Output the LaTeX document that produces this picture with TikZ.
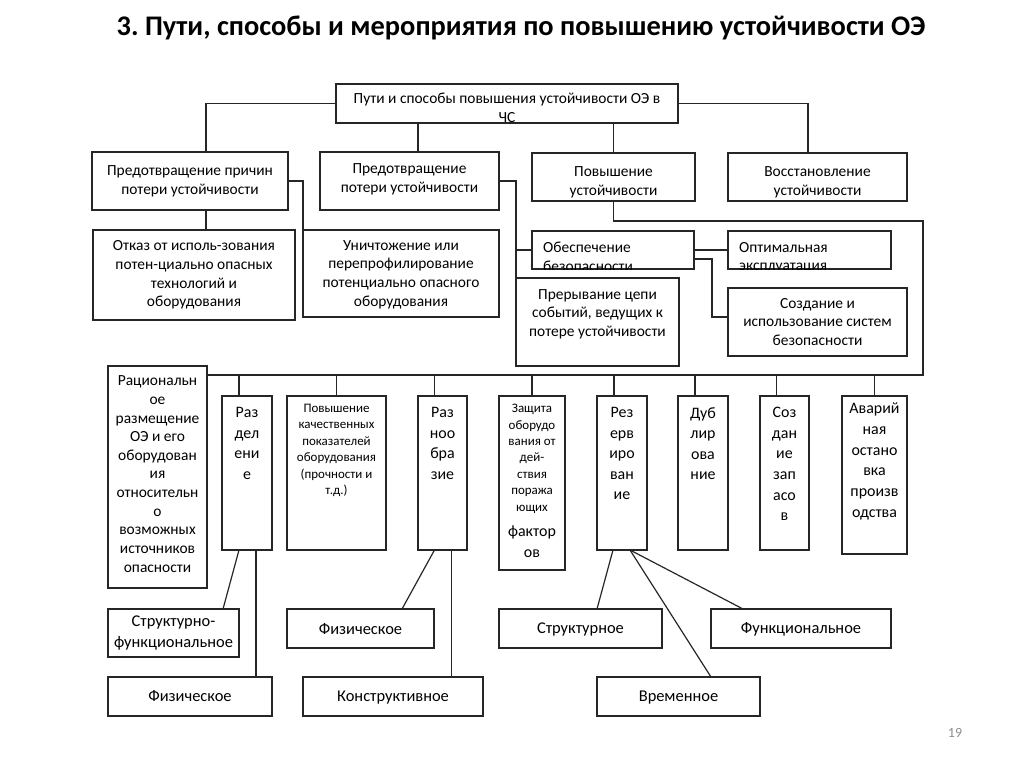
\documentclass[tikz,border=0pt]{standalone}
\usepackage{fontspec}
\setmainfont{Carlito}
\usetikzlibrary{calc}
\frenchspacing
\tikzset{
 box/.style={draw=black!85, line width=1.2bp, inner sep=0pt, outer sep=0pt, anchor=north west},
 ln/.style={draw=black!85, line width=1.2bp},
 tx/.style={inner sep=0pt, align=center, font=\fontsize{15.5}{18.7}\selectfont},
 txb/.style={inner sep=0pt, align=center, font=\fontsize{16.5}{21}\selectfont},
 txn/.style={inner sep=0pt, align=center, anchor=north, font=\fontsize{16}{20.7}\selectfont},
 txs/.style={inner sep=0pt, align=center, anchor=north, font=\fontsize{13}{16.5}\selectfont},
}
\newcommand\mkbox[5]{\node[box, minimum width={(#4-#2)*1bp}, minimum height={(#5-#3)*1bp}] (#1) at (#2,#3) {};}
\begin{document}
\begin{tikzpicture}[x=1bp,y=-1bp]
\useasboundingbox (0,0) rectangle (1024,767);
\node[font=\fontsize{28.5}{32}\selectfont\bfseries] (title) at (521,28) {3. Пути, способы и мероприятия по повышению устойчивости ОЭ};
% boxes
\mkbox{top}{336}{84}{678}{123}
\mkbox{A}{92}{152}{288}{210}
\mkbox{B}{320}{152}{499}{210}
\mkbox{C}{532}{153}{695}{201}
\mkbox{Dv}{728}{153}{907}{201}
\mkbox{H}{93}{230}{295}{320}
\mkbox{I}{303}{230}{499}{317}
\mkbox{D}{532}{231}{694}{269}
\mkbox{E}{728}{231}{891}{269}
\mkbox{F}{728}{288}{907}{356}
\mkbox{G}{516}{278}{679}{366}
\mkbox{Rac}{108}{366}{207}{588}
\mkbox{Razd}{222}{396}{272}{550}
\mkbox{Pov}{287}{396}{386}{550}
\mkbox{Razn}{418}{396}{467}{550}
\mkbox{Zas}{499}{396}{565}{570}
\mkbox{Rez}{597}{396}{647}{550}
\mkbox{Dub}{678}{396}{728}{550}
\mkbox{Zap}{760}{396}{809}{550}
\mkbox{Avar}{842}{396}{907}{554}
\mkbox{SF}{108}{609}{239}{657}
\mkbox{FizA}{108}{677}{272}{716}
\mkbox{FizB}{287}{609}{434}{648}
\mkbox{Kon}{303}{677}{483}{716}
\mkbox{Str}{499}{609}{662}{648}
\mkbox{Fun}{711}{609}{891}{648}
\mkbox{Vrem}{597}{677}{760}{716}
% texts
\node[tx, anchor=north] (ttop) at ([yshift=-9bp]top.north) {Пути и способы повышения устойчивости ОЭ в\\ЧС};
\node[tx] (tA) at (A) {Предотвращение причин\\потери устойчивости};
\node[tx] (tB) at ([yshift=2bp]B.center) {Предотвращение\\потери устойчивости};
\node[tx] (tC) at ([yshift=-5bp]C.center) {Повышение\\устойчивости};
\node[tx] (tDv) at ([yshift=-5bp]Dv.center) {Восстановление\\устойчивости};
\node[tx] (tH) at (H) {Отказ от исполь-зования\\потен-циально опасных\\технологий и\\оборудования};
\node[tx] (tI) at ([yshift=-1bp]I.center) {Уничтожение или\\перепрофилирование\\потенциально опасного\\оборудования};
\begin{scope}
\clip (D.north west) rectangle (D.south east);
\node[tx, anchor=north west, align=left] (tD) at ([xshift=11bp,yshift=-11bp]D.north west) {Обеспечение\\безопасности};
\end{scope}
\begin{scope}
\clip (E.north west) rectangle (E.south east);
\node[tx, anchor=north west, align=left] (tE) at ([xshift=11bp,yshift=-11bp]E.north west) {Оптимальная\\эксплуатация};
\end{scope}
\node[tx] (tF) at (F) {Создание и\\использование систем\\безопасности};
\node[tx, anchor=north] (tG) at ([yshift=-11bp]G.north) {Прерывание цепи\\событий, ведущих к\\потере устойчивости};
\node[tx] (tRac) at ([yshift=3bp]Rac.center) {Рациональн\\ое\\размещение\\ОЭ и его\\оборудован\\ия\\относительн\\о\\возможных\\источников\\опасности};
\node[txn] (tRazd) at ([yshift=-11bp]Razd.north) {Раз\\дел\\ени\\е};
\node[txs] (tPov) at ([yshift=-8bp]Pov.north) {Повышение\\качественных\\показателей\\оборудования\\(прочности и\\т.д.)};
\node[txn] (tRazn) at ([yshift=-11bp]Razn.north) {Раз\\ноо\\бра\\зие};
\node[txs] (tZas) at ([yshift=-8bp]Zas.north) {Защита\\оборудо\\вания от\\дей-\\ствия\\поража\\ющих};
\node[txn] (tZas2) at ([yshift=-130bp]Zas.north) {фактор\\ов};
\node[txn] (tRez) at ([yshift=-11bp]Rez.north) {Рез\\ерв\\иро\\ван\\ие};
\node[txn] (tDub) at ([yshift=-11bp]Dub.north) {Дуб\\лир\\ова\\ние};
\node[txn] (tZap) at ([yshift=-11bp]Zap.north) {Соз\\дан\\ие\\зап\\асо\\в};
\node[txn] (tAvar) at ([yshift=-7bp]Avar.north) {Аварий\\ная\\остано\\вка\\произв\\одства};
\node[txb] (tSF) at (SF) {Структурно-\\функциональное};
\node[txb] (tFizA) at (FizA) {Физическое};
\node[txb] (tFizB) at ([yshift=-1bp]FizB.center) {Физическое};
\node[txb] (tKon) at ([yshift=-1bp]Kon.center) {Конструктивное};
\node[txb] (tStr) at ([yshift=-1bp]Str.center) {Структурное};
\node[txb] (tFun) at ([yshift=-1bp]Fun.center) {Функциональное};
\node[txb] (tVrem) at ([yshift=-1bp]Vrem.center) {Временное};
\node[text=black!45, font=\fontsize{14}{16}\selectfont] (page) at (955,733) {19};
% connectors
\draw[ln] (top.west) -| ([xshift=16bp]A.north);
\draw[ln] ([xshift=8.5bp]B.north) -- ([xshift=8.5bp]B.north |- top.south);
\draw[ln] (C.north) -- (C.north |- top.south);
\draw[ln] (top.east) -| ([xshift=-9.5bp]Dv.north);
\draw[ln] (A.east) -| (I.north west);
\draw[ln] ([xshift=16bp]A.south) -- ([xshift=16bp]A.south |- H.north);
\draw[ln] (B.east) -| (G.north west);
\draw[ln] (D.west) -- (D.west -| G.west);
\draw[ln] (D.east) -- (E.west);
\draw[ln] ([yshift=-9bp]D.east) -- ++(18,0) |- ([yshift=5bp]F.west);
\coordinate (bend) at (923,221);
\coordinate (busR) at (923,375);
\draw[ln] (C.south) |- (bend) -- (busR) -- (busR -| Rac.east);
\foreach \n/\s in {Razd/-8,Pov/0,Razn/-8,Zas/0,Rez/-8,Dub/-8,Zap/-8,Avar/0}
  \draw[ln] ([xshift=\s bp]\n.north) -- ([xshift=\s bp]\n.north |- busR);
\draw[ln] ([xshift=-8bp]Razd.south) -- ([xshift=49.5bp]SF.north);
\draw[ln] ([xshift=9bp]Razd.south) -- ([xshift=9bp]Razd.south |- FizA.north);
\draw[ln] ([xshift=-8bp]Razn.south) -- ([xshift=41.5bp]FizB.north);
\draw[ln] ([xshift=9bp]Razn.south) -- ([xshift=9bp]Razn.south |- Kon.north);
\draw[ln] ([xshift=-9bp]Rez.south) -- ([xshift=16.5bp]Str.north);
\draw[ln] ([xshift=8bp]Rez.south) -- ([xshift=-58bp]Fun.north);
\draw[ln] ([xshift=8bp]Rez.south) -- ([xshift=32.5bp]Vrem.north);
\end{tikzpicture}
\end{document}
